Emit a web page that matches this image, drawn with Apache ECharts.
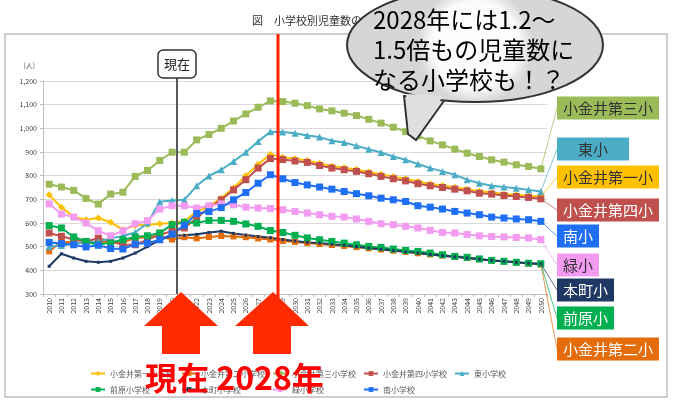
<!DOCTYPE html>
<html>
<head>
<meta charset="utf-8">
<script src="https://cdn.jsdelivr.net/npm/echarts@6.0.0/dist/echarts.min.js"></script>
<style>
  html, body { margin: 0; padding: 0; background: #fff; }
  #chart { width: 700px; height: 404px; }
</style>
</head>
<body>
<div id="chart"></div>
<script>
// years 2010 - 2050
const years = [];
for (let y = 2010; y <= 2050; y++) years.push(String(y));

const yTicks = [300, 400, 500, 600, 700, 800, 900, 1000, 1100, 1200];

// children per school
const daiichi = [719, 667, 625, 614, 621, 603, 572, 589, 593, 597, 600, 607, 648, 670, 705, 748, 800, 848,
  890, 878, 872, 864, 852, 841, 833, 826, 816, 806, 796, 787, 775, 766, 758, 751, 743, 734, 729, 723, 719, 715, 711];
const daini = [480, 522, 518, 515, 522, 518, 518, 536, 541, 545, 530, 540, 535, 541, 545, 543, 540, 535,
  530, 524, 520, 515, 511, 507, 503, 498, 493, 488, 483, 478, 472, 467, 462, 457, 452, 447, 442, 437, 433, 429, 425];
const daisan = [764, 752, 738, 704, 680, 722, 730, 797, 822, 864, 899, 899, 951, 974, 1000, 1031, 1061, 1089,
  1116, 1113, 1106, 1096, 1082, 1074, 1064, 1054, 1038, 1022, 1005, 986, 968, 947, 930, 912, 895, 881, 867, 857, 846, 839, 829];
const daiyon = [558, 544, 530, 522, 536, 522, 508, 508, 530, 551, 565, 579, 621, 665, 698, 740, 783, 832,
  872, 868, 862, 856, 843, 832, 825, 818, 808, 797, 787, 778, 766, 757, 750, 743, 736, 726, 722, 716, 712, 708, 702];
const higashi = [500, 505, 512, 520, 522, 535, 545, 560, 600, 690, 695, 698, 757, 799, 825, 860, 899, 944,
  986, 984, 979, 970, 963, 948, 940, 926, 912, 898, 881, 867, 849, 832, 818, 804, 783, 768, 757, 752, 747, 740, 733];
const maehara = [589, 579, 541, 522, 508, 518, 529, 541, 546, 558, 593, 603, 600, 611, 611, 607, 596, 586,
  568, 560, 548, 537, 529, 522, 515, 508, 501, 497, 490, 484, 480, 473, 466, 459, 455, 448, 442, 438, 434, 430, 428];
const honcho = [417, 470, 452, 438, 434, 438, 452, 473, 500, 529, 546, 548, 552, 560, 565, 556, 549, 543,
  538, 530, 524, 518, 515, 510, 506, 500, 494, 489, 484, 478, 473, 467, 462, 457, 452, 447, 442, 438, 434, 430, 427];
const midori = [681, 638, 625, 600, 567, 546, 567, 597, 610, 659, 673, 673, 663, 673, 681, 677, 667, 663,
  661, 656, 649, 642, 635, 628, 625, 617, 607, 597, 593, 586, 579, 569, 560, 558, 551, 546, 543, 541, 539, 537, 530];
const minami = [518, 513, 508, 499, 506, 492, 490, 511, 515, 529, 553, 590, 640, 648, 665, 698, 729, 768,
  804, 787, 771, 761, 752, 743, 733, 724, 715, 705, 698, 691, 673, 667, 659, 649, 642, 635, 625, 621, 617, 614, 607];

const legendNames = ['小金井第一小学校', '小金井第二小学校', '小金井第三小学校', '小金井第四小学校', '東小学校',
  '前原小学校', '本町小学校', '緑小学校', '南小学校'];
const boxNames = ['小金井第一小', '小金井第二小', '小金井第三小', '小金井第四小', '東小',
  '前原小', '本町小', '緑小', '南小'];
const seriesValues = [daiichi, daini, daisan, daiyon, higashi, maehara, honcho, midori, minami];

const colors = ['#ffc000', '#e46c0a', '#9bbb59', '#c0504d', '#4bacc6', '#00b050', '#1f3864', '#f29bf0', '#1f6ff5'];
const symbols = ['diamond', 'rect', 'rect', 'rect', 'triangle', 'rect', 'rect', 'rect', 'rect'];
const symbolSizes = [7, 6, 7, 7, 7, 7, 3, 7, 7];
const boxText = ['#333', '#fff', '#333', '#fff', '#333', '#fff', '#fff', '#333', '#fff'];
// vertical centre of each name box at the right
const boxY = [177, 349, 108, 210, 149, 318, 290, 265, 236];
const boxLeft = 557;

const jp = '"Noto Sans CJK JP", sans-serif';
const last = years.length - 1;

const series = seriesValues.map((vals, k) => ({
  name: legendNames[k],
  type: 'line',
  data: vals.map((v, i) => i === last ? { value: v, label: { show: true } } : v),
  symbol: symbols[k],
  symbolSize: symbolSizes[k],
  lineStyle: { color: colors[k], width: 2 },
  itemStyle: { color: colors[k] },
  label: {
    show: false,
    formatter: boxNames[k],
    fontFamily: jp,
    fontSize: 15,
    color: boxText[k],
    backgroundColor: colors[k],
    padding: k === 4 ? [4, 21] : [4, 6]
  },
  labelLayout: (p) => p.dataIndex === last ? { x: boxLeft, y: boxY[k], align: 'left', verticalAlign: 'middle' } : {},
  animation: false
}));

const chart = echarts.init(document.getElementById('chart'));

const baseGraphic = [
  { type: 'rect', z: 0, shape: { x: 5, y: 34, width: 662, height: 363 }, style: { fill: 'none', stroke: '#bfbfbf', lineWidth: 1.5 } },
  { type: 'text', z: 50, x: 252, y: 15, style: { text: '図　小学校別児童数の推計', font: '11px ' + jp, fill: '#333' } },
  // 現在 marker
  { type: 'line', z: 50, shape: { x1: 177, y1: 78, x2: 177, y2: 294 }, style: { stroke: '#595959', lineWidth: 2 } },
  { type: 'rect', z: 51, shape: { x: 158, y: 50, width: 38, height: 28, r: 5 }, style: { fill: '#fff', stroke: '#333', lineWidth: 1.5 } },
  { type: 'text', z: 52, x: 177, y: 64, style: { text: '現在', font: '13px ' + jp, fill: '#222', align: 'center', verticalAlign: 'middle' } },
  // 2028 red line
  { type: 'line', z: 50, shape: { x1: 278, y1: 34, x2: 278, y2: 300 }, style: { stroke: '#ff2200', lineWidth: 3 } },
  // arrows
  { type: 'polygon', z: 60, shape: { points: [[181, 292], [218, 326], [200, 326], [200, 354], [162, 354], [162, 326], [144, 326]] }, style: { fill: '#ff2a00' } },
  { type: 'polygon', z: 60, shape: { points: [[273, 292], [309, 326], [291, 326], [291, 354], [253, 354], [253, 326], [235, 326]] }, style: { fill: '#ff2a00' } },
  { type: 'text', z: 61, x: 145, y: 378, style: { text: '現在 2028年', font: 'bold 32px ' + jp, fill: '#ff0000', verticalAlign: 'middle' } },
  // speech bubble
  { type: 'polygon', z: 70, shape: { points: [[404, 96], [408, 134], [416, 140], [446, 98]] }, style: { fill: '#e2e2e2', stroke: '#333', lineWidth: 2 } },
  { type: 'ellipse', z: 71, shape: { cx: 475, cy: 45, rx: 128, ry: 57 },
    style: { fill: new echarts.graphic.RadialGradient(0.5, 0.5, 0.5, [{ offset: 0, color: '#ffffff' }, { offset: 0.75, color: '#fbfbfb' }, { offset: 1, color: '#d6d6d6' }]), stroke: '#333', lineWidth: 2 } },
  { type: 'polygon', z: 72, shape: { points: [[406, 94], [409, 132], [416, 137], [443, 96]] }, style: { fill: '#e0e0e0' } },
  { type: 'text', z: 73, x: 373, y: 20, style: { text: '2028年には1.2～', font: '24px ' + jp, fill: '#000', verticalAlign: 'middle' } },
  { type: 'text', z: 73, x: 373, y: 50, style: { text: '1.5倍もの児童数に', font: '24px ' + jp, fill: '#000', verticalAlign: 'middle' } },
  { type: 'text', z: 73, x: 373, y: 80, style: { text: 'なる小学校も！？', font: '24px ' + jp, fill: '#000', verticalAlign: 'middle' } }
];

chart.setOption({
  animation: false,
  textStyle: { fontFamily: jp },
  grid: { left: 43, right: 153, top: 81, bottom: 110 },
  legend: {
    left: 85,
    top: 361,
    width: 455,
    itemWidth: 14,
    itemHeight: 6,
    itemGap: 1,
    textStyle: { fontSize: 8, color: '#595959', width: 70, lineHeight: 15 },
    data: legendNames
  },
  xAxis: {
    type: 'category',
    data: years,
    axisLine: { lineStyle: { color: '#bfbfbf' } },
    axisTick: { show: true, length: 3, lineStyle: { color: '#bfbfbf' } },
    axisLabel: { rotate: 90, fontSize: 7, color: '#404040', interval: 0, margin: 4 }
  },
  yAxis: {
    type: 'value',
    min: yTicks[0],
    max: yTicks[yTicks.length - 1],
    interval: 100,
    name: '(人)',
    nameGap: 12,
    nameTextStyle: { fontSize: 7, color: '#595959', align: 'right', padding: [0, 8, 0, 0] },
    axisLine: { show: true, lineStyle: { color: '#bfbfbf' } },
    axisTick: { show: true, length: 3, lineStyle: { color: '#bfbfbf' } },
    axisLabel: { fontSize: 7, color: '#404040', margin: 6, formatter: (v) => v.toLocaleString('en-US') },
    splitLine: { lineStyle: { color: '#d9d9d9' } }
  },
  series,
  graphic: baseGraphic
});

// thin leader lines from each line's last point to its name box
const leaders = seriesValues.map((vals, k) => {
  const p = chart.convertToPixel({ seriesIndex: k }, [last, vals[last]]);
  return {
    type: 'line', z: 40,
    shape: { x1: p[0], y1: p[1], x2: boxLeft, y2: boxY[k] },
    style: { stroke: colors[k], lineWidth: 1, opacity: 0.7 }
  };
});
chart.setOption({ graphic: baseGraphic.concat(leaders) });
</script>
</body>
</html>
